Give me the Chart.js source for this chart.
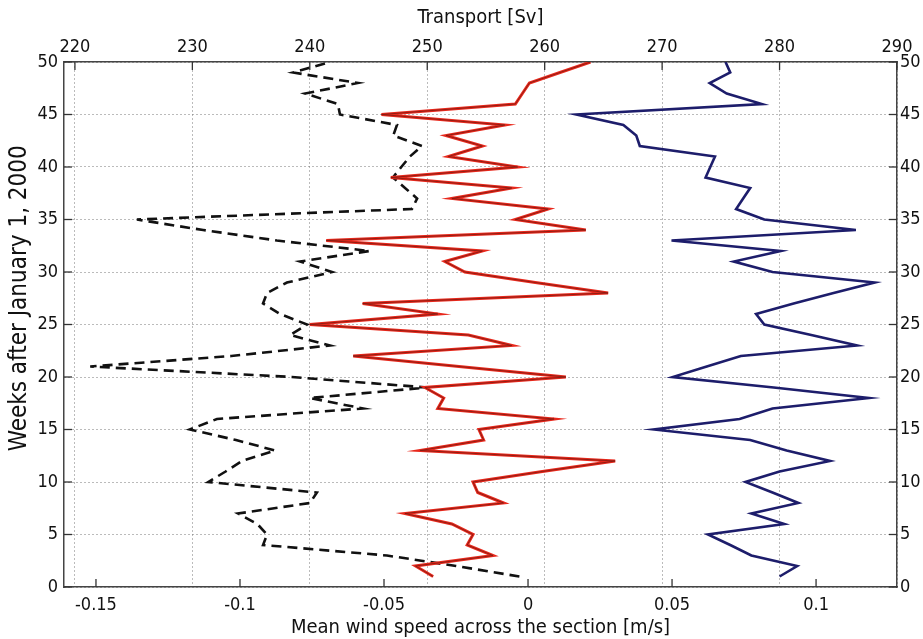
<!DOCTYPE html>
<html>
<head>
<meta charset="utf-8">
<script src="https://cdn.jsdelivr.net/npm/chart.js@4.4.1/dist/chart.umd.min.js"></script>
<style>
  html, body { margin: 0; padding: 0; background: #fff; }
</style>
</head>
<body>
<canvas id="chart" width="923" height="639"></canvas>
<script>
// weeks 1..50 after January 1, 2000
const weeks = [1, 2, 3, 4, 5, 6, 7, 8, 9, 10, 11, 12, 13, 14, 15, 16, 17, 18, 19, 20,
  21, 22, 23, 24, 25, 26, 27, 28, 29, 30, 31, 32, 33, 34, 35, 36, 37, 38, 39, 40,
  41, 42, 43, 44, 45, 46, 47, 48, 49, 50];

// mean wind speed across the section [m/s] (black dashed, bottom axis)
const windSpeed = [-0.003, -0.025, -0.049, -0.092, -0.0906, -0.094, -0.1007, -0.0757, -0.0733, -0.111,
  -0.105, -0.0993, -0.0878, -0.1014, -0.1174, -0.108, -0.0573, -0.0757, -0.035, -0.082,
  -0.152, -0.103, -0.0688, -0.0826, -0.0767, -0.0861, -0.092, -0.0906, -0.0837, -0.068,
  -0.0792, -0.055, -0.0872, -0.1128, -0.1358, -0.0403, -0.0385, -0.0427, -0.0469, -0.044,
  -0.041, -0.0368, -0.0468, -0.0455, -0.0653, -0.066, -0.0774, -0.059, -0.0816, -0.0688];

// transport [Sv] (red, top axis)
const transportRed = [250.5, 249.0, 255.6, 253.4, 253.9, 252.1, 248.1, 256.5, 254.3, 253.9,
  259.8, 266.0, 249.4, 254.8, 254.4, 260.8, 250.9, 251.4, 249.8, 261.8,
  252.7, 243.7, 257.2, 253.5, 240.0, 250.9, 244.5, 265.4, 259.2, 253.2,
  251.5, 254.7, 241.4, 263.5, 257.5, 260.3, 252.1, 257.2, 246.9, 257.7,
  251.8, 254.7, 251.6, 256.6, 246.1, 257.5, 258.1, 258.7, 261.3, 263.9];

// transport [Sv] (blue, top axis)
const transportBlue = [280.0, 281.5, 277.6, 275.8, 273.9, 280.4, 277.6, 281.6, 279.4, 277.1,
  280.0, 284.3, 280.6, 277.5, 269.3, 276.6, 279.4, 287.6, 279.5, 270.9,
  273.8, 276.7, 286.6, 282.7, 278.7, 278.0, 281.2, 284.6, 288.1, 279.4,
  276.1, 280.1, 270.8, 286.5, 278.7, 276.3, 276.9, 277.5, 273.7, 274.1,
  274.5, 268.1, 267.8, 266.7, 262.7, 278.5, 275.5, 274.05, 275.8, 275.4];

const weekTicks = [0, 5, 10, 15, 20, 25, 30, 35, 40, 45, 50];
const windTicks = [-0.15, -0.1, -0.05, 0, 0.05, 0.1];
const transportTicks = [220, 230, 240, 250, 260, 270, 280, 290];
const weeksTitle = 'Weeks after January 1, 2000';

const pts = (vals) => vals.map((v, i) => ({ x: v, y: weeks[i] }));
const fixTicks = (list) => (scale) => { scale.ticks = list.map(v => ({ value: v })); };

const family = "'DejaVu Sans Condensed', 'Liberation Sans', Arial, sans-serif";
const tickFont = { family, size: 18, lineHeight: 1 };
const titleFont = { family, size: 20, lineHeight: 1 };
const ink = '#111';
const dotted = { color: '#444', width: 1.5, dash: [1, 3] };

// short tick marks pointing into the plot, and the left title set a bit above centre
const innerTicks = {
  id: 'innerTicks',
  afterDraw(chart) {
    const { ctx, chartArea: a, scales } = chart;
    const len = 8;
    ctx.save();
    ctx.strokeStyle = '#333';
    ctx.lineWidth = 1.3;
    const seg = (x1, y1, x2, y2) => { ctx.beginPath(); ctx.moveTo(x1, y1); ctx.lineTo(x2, y2); ctx.stroke(); };
    scales.y.ticks.forEach(t => {
      const p = scales.y.getPixelForValue(t.value);
      seg(a.left, p, a.left + len, p);
      seg(a.right, p, a.right - len, p);
    });
    scales.xt.ticks.forEach(t => {
      const p = scales.xt.getPixelForValue(t.value);
      seg(p, a.top, p, a.top + len);
    });
    scales.xb.ticks.forEach(t => {
      const p = scales.xb.getPixelForValue(t.value);
      seg(p, a.bottom, p, a.bottom - len);
    });

    ctx.translate(20, scales.y.getPixelForValue(27.5));
    ctx.rotate(-Math.PI / 2);
    ctx.font = `24px ${family}`;
    ctx.fillStyle = ink;
    ctx.textAlign = 'center';
    ctx.textBaseline = 'middle';
    ctx.fillText(weeksTitle, 0, 0);
    ctx.restore();
  }
};

new Chart(document.getElementById('chart'), {
  type: 'scatter',
  data: {
    datasets: [
      {
        label: 'Transport (core)',
        data: pts(transportRed),
        xAxisID: 'xt', yAxisID: 'y',
        showLine: true, borderColor: '#7a1a10', borderWidth: 0.8, pointRadius: 0
      },
      {
        label: 'Transport',
        data: pts(transportRed),
        xAxisID: 'xt', yAxisID: 'y',
        showLine: true, borderColor: '#e8281c', borderWidth: 3, pointRadius: 0
      },
      {
        label: 'Transport 2',
        data: pts(transportBlue),
        xAxisID: 'xt', yAxisID: 'y',
        showLine: true, borderColor: '#1d1d6b', borderWidth: 2.6, pointRadius: 0
      },
      {
        label: 'Wind speed',
        data: pts(windSpeed),
        xAxisID: 'xb', yAxisID: 'y',
        showLine: true, borderColor: '#111', borderWidth: 2.6, borderDash: [10, 6], pointRadius: 0
      }
    ]
  },
  options: {
    responsive: false,
    animation: false,
    layout: { padding: 0 },
    plugins: { legend: { display: false }, tooltip: { enabled: false } },
    scales: {
      xb: {
        type: 'linear', position: 'bottom', min: -0.1611, max: 0.1281,
        afterBuildTicks: fixTicks(windTicks),
        afterFit: (s) => { s.height = 52; },
        grid: { drawOnChartArea: false, drawTicks: false },
        border: { color: '#444', width: 1.5 },
        ticks: { font: tickFont, color: ink, padding: 9, maxRotation: 0, autoSkip: false,
          callback: (v) => String(Math.round(v * 100) / 100) },
        title: { display: true, text: 'Mean wind speed across the section [m/s]', font: titleFont, color: ink,
          padding: { top: 0, bottom: 1 } }
      },
      xt: {
        type: 'linear', position: 'top', min: 219.07, max: 290,
        afterBuildTicks: fixTicks(transportTicks),
        afterFit: (s) => { s.height = 62; },
        grid: { color: '#777', lineWidth: 1, drawTicks: false },
        border: dotted,
        ticks: { font: tickFont, color: ink, padding: 6, maxRotation: 0, autoSkip: false },
        title: { display: true, text: 'Transport [Sv]', font: titleFont, color: ink,
          padding: { top: 8, bottom: 0 } }
      },
      y: {
        type: 'linear', position: 'left', min: 0, max: 50,
        afterBuildTicks: fixTicks(weekTicks),
        afterFit: (s) => { s.width = 64; },
        grid: { color: '#777', lineWidth: 1, drawTicks: false },
        border: dotted,
        ticks: { font: tickFont, color: ink, padding: 6, autoSkip: false },
        title: { display: false }
      },
      y2: {
        type: 'linear', position: 'right', min: 0, max: 50,
        afterBuildTicks: fixTicks(weekTicks),
        afterFit: (s) => { s.width = 26; },
        grid: { drawOnChartArea: false, drawTicks: false },
        border: { color: '#444', width: 1.5 },
        ticks: { font: tickFont, color: ink, padding: 3, autoSkip: false }
      }
    }
  },
  plugins: [innerTicks]
});
</script>
</body>
</html>
